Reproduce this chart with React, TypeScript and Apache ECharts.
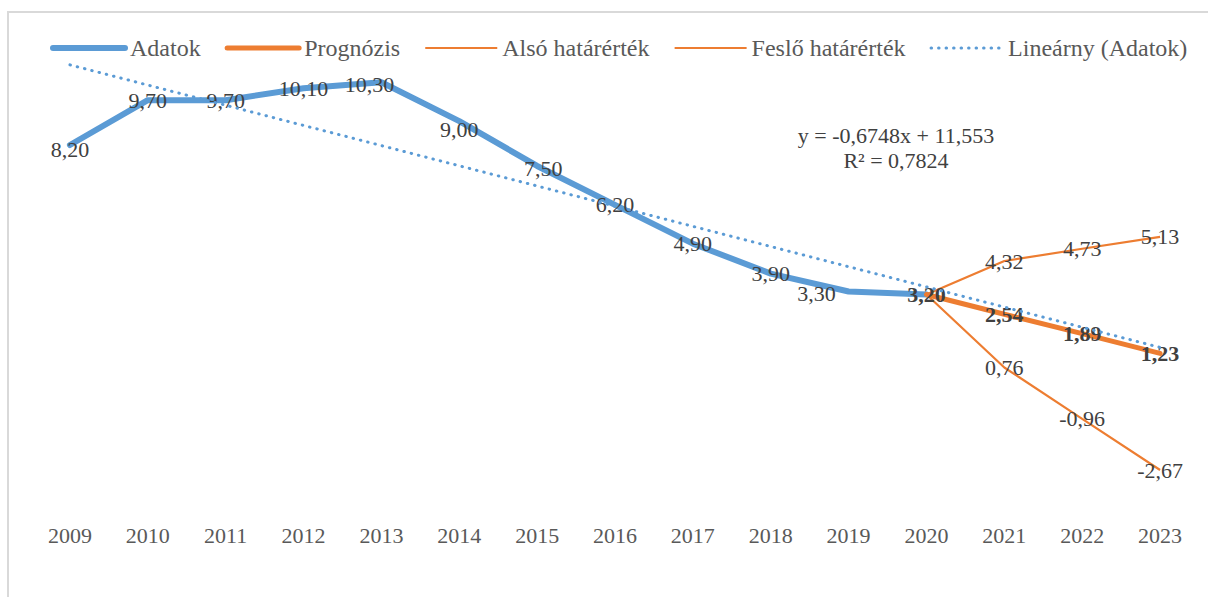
import React, { useEffect, useRef } from "react";
import * as echarts from "echarts";

const categories = ["2009", "2010", "2011", "2012", "2013", "2014", "2015", "2016", "2017", "2018", "2019", "2020", "2021", "2022", "2023"];
const adatok = [8.2, 9.7, 9.7, 10.1, 10.3, 9.0, 7.5, 6.2, 4.9, 3.9, 3.3, 3.2, null, null, null];
const prognozis = [null, null, null, null, null, null, null, null, null, null, null, 3.2, 2.54, 1.89, 1.23];
const also = [null, null, null, null, null, null, null, null, null, null, null, 3.2, 0.76, -0.96, -2.67];
const felso = [null, null, null, null, null, null, null, null, null, null, null, 3.2, 4.32, 4.73, 5.13];
const trend = [10.88, null, null, null, null, null, null, null, null, null, null, null, null, null, 1.43];
const equationLines = ["y = -0,6748x + 11,553", "R² = 0,7824"];

const BLUE = "#5B9BD5";
const ORANGE = "#ED7D31";
const FONT = "Liberation Serif, Times New Roman, serif";
const LABEL_COLOR = "#404040";

const fmt = (p: any) => (p.value == null ? "" : Number(p.value).toFixed(2).replace(".", ","));

export default function App() {
  const ref = useRef<HTMLDivElement>(null);
  useEffect(() => {
    document.body.style.margin = "0";
    if (!ref.current) return;
    const chart = echarts.init(ref.current, null, { renderer: "svg" });

    const baseLabel = {
      show: true,
      position: "inside",
      fontFamily: FONT,
      fontSize: 22,
      color: LABEL_COLOR,
      formatter: fmt,
    };

    const labelOffsets: Record<number, number[]> = {
      0: [0, 4],
      4: [-12, 2],
      5: [0, 8],
      6: [6, 3],
      10: [-32, 2],
    };
    const adatokData = adatok.map((v, i) => {
      if (i === 11) return { value: v, label: { show: false } };
      if (labelOffsets[i]) return { value: v, label: { offset: labelOffsets[i] } };
      return { value: v };
    });
    const rangeData = (arr: (number | null)[]) =>
      arr.map((v, i) => (i === 11 ? { value: v, label: { show: false } } : { value: v }));

    const hiddenSymbol = {
      symbol: "circle",
      symbolSize: 1,
      showSymbol: true,
      showAllSymbol: true,
      itemStyle: { color: "rgba(0,0,0,0)", borderWidth: 0 },
    };

    chart.setOption({
      animation: false,
      backgroundColor: "#ffffff",
      grid: { left: 31, right: 9, top: 31.4, bottom: 87.2, containLabel: false },
      legend: {
        left: 45,
        top: 31,
        itemWidth: 72,
        itemHeight: 14,
        itemGap: 24,
        itemStyle: { opacity: 0 },
        textStyle: { fontFamily: FONT, fontSize: 24, color: "#595959" },
        data: [
          { name: "Adatok", lineStyle: { width: 6, color: BLUE } },
          { name: "Prognózis", lineStyle: { width: 5, color: ORANGE } },
          { name: "Alsó határérték", lineStyle: { width: 2.2, color: ORANGE } },
          { name: "Feslő határérték", lineStyle: { width: 2.2, color: ORANGE } },
          { name: "Lineárny (Adatok)", lineStyle: { width: 3, color: BLUE } },
        ],
      },
      xAxis: {
        type: "category",
        data: categories,
        boundaryGap: true,
        axisLine: { show: false },
        axisTick: { show: false },
        splitLine: { show: false },
        axisLabel: { fontFamily: FONT, fontSize: 22, color: "#595959", margin: 15 },
      },
      yAxis: {
        type: "value",
        min: -4,
        max: 12,
        interval: 2,
        show: false,
        splitLine: { show: false },
      },
      graphic: [
        {
          type: "rect",
          shape: { x: 8, y: 12, width: 1260, height: 650 },
          style: { fill: "none", stroke: "#d9d9d9", lineWidth: 2 },
          silent: true,
        },
        {
          type: "text",
          x: 896,
          y: 135,
          style: {
            text: equationLines[0],
            fontFamily: FONT,
            fontSize: 22,
            fill: LABEL_COLOR,
            textAlign: "center",
            textVerticalAlign: "middle",
          },
        },
        {
          type: "text",
          x: 896,
          y: 160,
          style: {
            text: equationLines[1],
            fontFamily: FONT,
            fontSize: 22,
            fill: LABEL_COLOR,
            textAlign: "center",
            textVerticalAlign: "middle",
          },
        },
      ],
      series: [
        {
          name: "Adatok",
          type: "line",
          data: adatokData,
          ...hiddenSymbol,
          color: BLUE,
          lineStyle: { color: BLUE, width: 6, cap: "round", join: "round" },
          label: baseLabel,
          z: 2,
        },
        {
          name: "Prognózis",
          type: "line",
          data: prognozis,
          ...hiddenSymbol,
          color: ORANGE,
          lineStyle: { color: ORANGE, width: 5, cap: "round", join: "round" },
          label: { ...baseLabel, fontWeight: "bold" },
          z: 3,
        },
        {
          name: "Alsó határérték",
          type: "line",
          data: rangeData(also),
          ...hiddenSymbol,
          color: ORANGE,
          lineStyle: { color: ORANGE, width: 2.2 },
          label: baseLabel,
          z: 3,
        },
        {
          name: "Feslő határérték",
          type: "line",
          data: rangeData(felso),
          ...hiddenSymbol,
          color: ORANGE,
          lineStyle: { color: ORANGE, width: 2.2 },
          label: baseLabel,
          z: 3,
        },
        {
          name: "Lineárny (Adatok)",
          type: "line",
          data: trend,
          connectNulls: true,
          symbol: "none",
          color: BLUE,
          lineStyle: { color: BLUE, width: 3, type: [0.5, 7], cap: "round" },
          label: { show: false },
          z: 4,
        },
      ],
    });
    return () => chart.dispose();
  }, []);
  return <div ref={ref} style={{ width: 1208, height: 597 }} />;
}
